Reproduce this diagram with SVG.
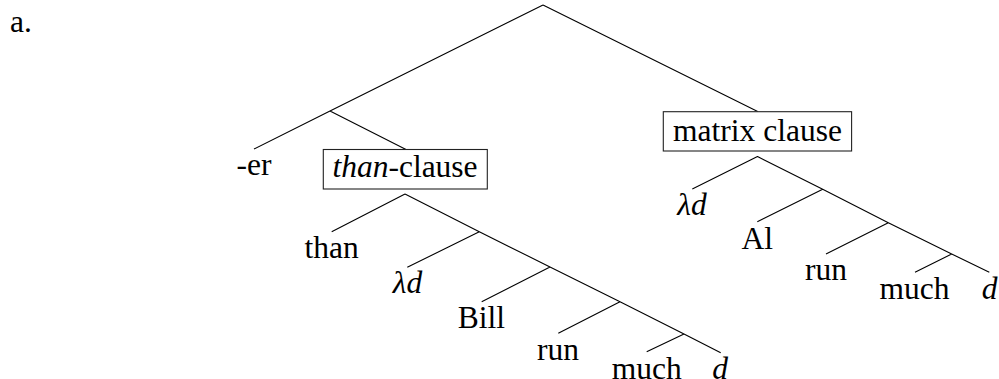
<svg xmlns="http://www.w3.org/2000/svg" width="999" height="379" viewBox="0 0 999 379">
<style>
  text { font-family: "Liberation Serif", "Times New Roman", serif; font-size: 31.5px; fill: #000; }
  .m { text-anchor: middle; }
  .it { font-style: italic; }
  .edge { stroke: #000; stroke-width: 1.1; fill: none; }
  .box { stroke: #222; stroke-width: 1.1; fill: #fff; }
</style>
<rect width="999" height="379" fill="#fff"/>
<text x="10" y="32">a.</text>
<g id="connectors">
  <path class="edge" d="M543,5 L330,111 L254,149 M330,111 L406,149.5 M543,5 L757.7,111.5"/>
  <path class="edge" d="M405,194 L331.7,231.7 M405,194 L479.3,231.7 L550,267 L620,301.7 L684,334 L720.7,352.7 M479.3,231.7 L407.3,267.3 M550,267 L481.7,301.7 M620,301.7 L558.3,333.3 M684,334 L646.7,351.7"/>
  <path class="edge" d="M757.5,156.5 L692.3,189 M757.5,156.5 L822.7,189.3 L888.3,222.7 L951.7,254 L989.3,272.3 M822.7,189.3 L757.3,221.7 M888.3,222.7 L826,254 M951.7,254 L915,272.3"/>
</g>
<g id="er"><text class="m" x="254" y="175">-er</text></g>
<g id="than-clause">
  <rect class="box" x="323.3" y="149.5" width="164" height="39.5"/>
  <text class="m" x="405" y="177"><tspan class="it">than</tspan>-clause</text>
</g>
<g id="matrix-clause">
  <rect class="box" x="663.3" y="111.7" width="188.3" height="39.3"/>
  <text class="m" x="757.5" y="141">matrix clause</text>
</g>
<g id="than"><text class="m" x="331.7" y="257.7">than</text></g>
<g id="lambda-d-1"><text class="m it" x="407.5" y="293">λd</text></g>
<g id="bill"><text class="m" x="481.3" y="328">Bill</text></g>
<g id="run-1"><text class="m" x="558" y="360">run</text></g>
<g id="much-1"><text class="m" x="646.7" y="378.7">much</text></g>
<g id="d-1"><text class="m it" x="720" y="378.7">d</text></g>
<g id="lambda-d-2"><text class="m it" x="692" y="215">λd</text></g>
<g id="al"><text class="m" x="757.2" y="249">Al</text></g>
<g id="run-2"><text class="m" x="826" y="280">run</text></g>
<g id="much-2"><text class="m" x="914.5" y="299.3">much</text></g>
<g id="d-2"><text class="m it" x="989.5" y="299.3">d</text></g>
</svg>
